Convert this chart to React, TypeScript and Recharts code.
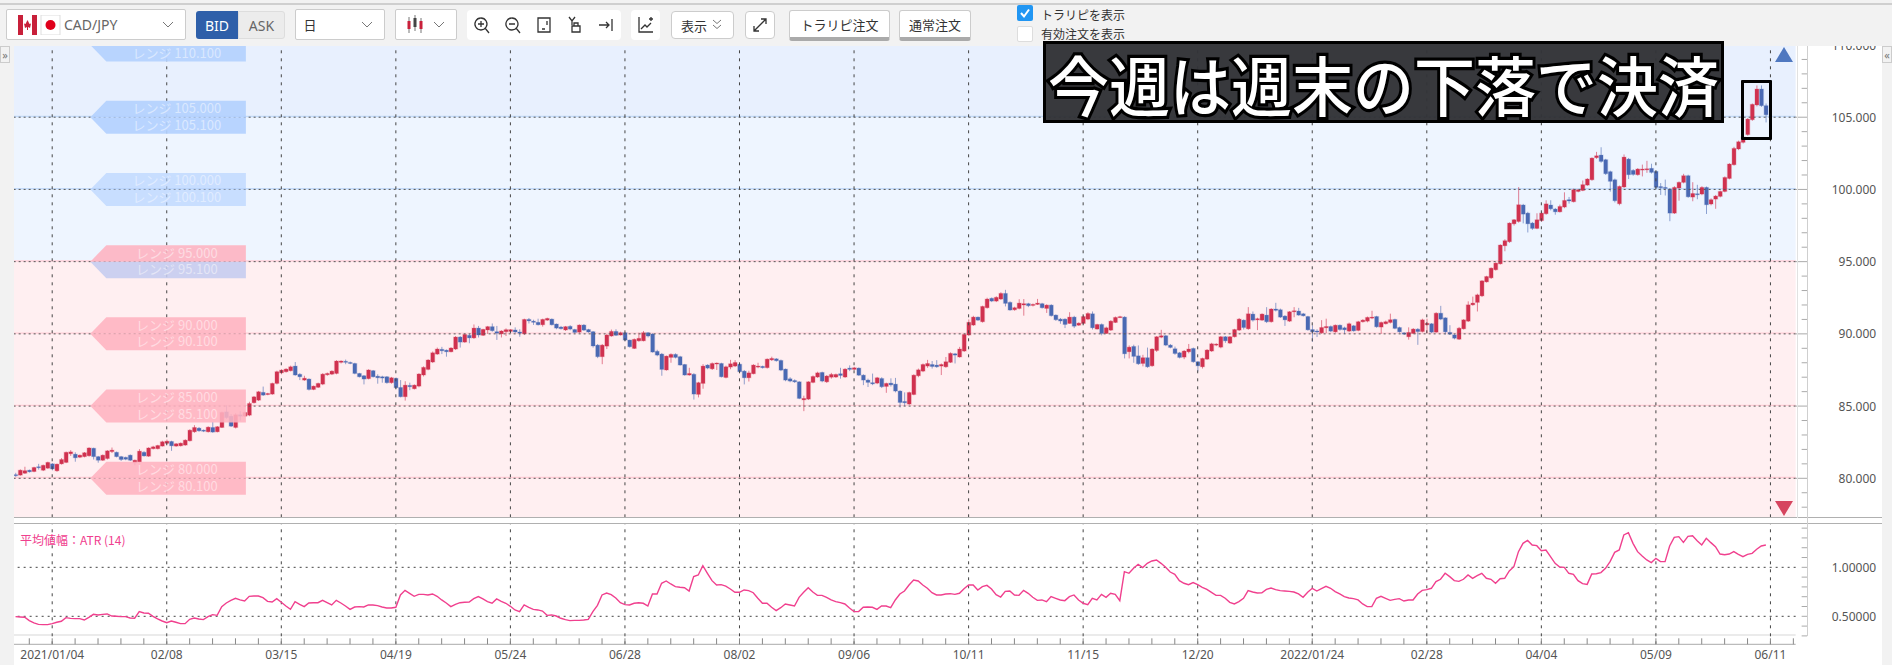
import React from "react";
import {
  ComposedChart,
  Bar,
  Line,
  XAxis,
  YAxis,
  ReferenceLine,
  ReferenceArea,
  ReferenceDot,
} from "recharts";

const FONT = '"Noto Sans", "Noto Sans CJK JP", sans-serif';
const JP_FONT = '"Noto Sans CJK JP", sans-serif';

// 日足 (25本ごと = 5週)
const opens = [
  80.25,80.22,80.35,80.56,80.47,80.8,80.56,80.7,81.0,80.52,81.0,81.1,81.7,81.67,81.46,81.5,81.56,82.08,81.5,81.25,81.37,81.85,81.8,81.5,81.45,
  81.6,81.07,81.13,81.8,81.53,82.05,82.05,82.23,82.42,82.55,82.23,82.25,82.3,82.6,83.22,83.47,83.33,83.22,83.52,83.22,83.52,84.6,84.3,83.52,84.4,
  84.3,84.37,85.23,85.41,85.95,85.8,85.83,86.57,87.3,87.38,87.45,87.77,87.2,86.8,86.87,86.15,86.3,86.52,87.17,87.21,87.26,88.03,88.1,88.02,87.95,
  87.26,87.1,86.9,87.45,87.07,87.03,87.03,86.62,86.92,86.29,85.65,86.43,86.2,86.38,87.15,87.54,88.05,88.6,88.93,88.87,88.76,88.95,89.78,89.43,89.9,
  89.72,90.4,89.9,90.27,90.5,90.15,90.0,90.15,90.17,90.27,90.13,90.0,91.0,90.88,90.8,90.63,90.95,91.02,90.68,90.47,90.27,90.52,90.3,90.12,90.61,
  90.3,90.15,89.22,88.42,89.15,89.85,90.17,89.92,90.08,89.57,88.99,89.52,89.52,90.08,89.99,88.79,88.6,87.5,88.37,88.58,88.42,87.88,87.15,87.2,85.81,
  86.57,87.84,87.58,87.95,87.95,86.98,87.7,87.77,87.9,87.42,86.96,87.24,87.7,87.75,87.66,88.2,88.27,88.16,87.56,86.89,86.77,86.68,85.43,85.48,86.64,
  87.01,87.33,86.68,87.0,87.01,87.24,87.01,87.63,87.54,87.63,87.14,86.8,86.62,86.59,86.91,86.36,86.59,86.52,86.04,85.32,85.14,85.8,87.1,87.42,87.77,
  87.88,87.84,87.77,87.72,88.03,88.62,88.4,88.81,89.92,90.61,91.16,90.84,91.81,92.46,92.27,92.41,92.8,92.18,91.67,91.76,92.0,92.09,91.97,92.04,92.09,
  91.76,91.99,91.3,91.02,91.02,90.72,91.16,90.6,90.72,91.02,91.39,90.33,90.65,90.03,90.26,90.79,91.14,91.16,88.76,89.13,88.48,87.95,88.35,87.79,88.85,
  89.77,89.87,89.22,88.97,88.69,88.39,88.76,88.99,88.07,87.72,88.25,88.81,89.22,89.08,89.8,89.36,89.8,90.26,90.95,90.35,91.37,90.97,90.95,91.3,90.84,
  91.72,91.67,91.23,90.88,91.53,91.58,91.39,91.2,90.3,90.2,90.07,90.42,90.51,90.14,90.6,90.42,90.19,90.56,90.24,90.84,90.88,91.12,91.2,90.47,90.7,
  90.79,91.0,90.44,90.07,89.8,90.03,90.32,90.16,90.63,90.7,90.12,91.43,91.11,90.1,89.93,89.63,90.35,90.88,92.01,92.18,92.63,93.6,93.88,94.44,94.85,
  96.1,96.38,97.62,97.78,98.92,98.36,97.67,97.3,97.84,98.32,98.92,98.64,98.45,98.78,99.29,99.15,99.86,99.93,100.3,100.67,102.2,102.38,102.06,101.23,100.67,
  99.01,100.17,102.1,101.32,101.02,101.34,101.36,101.46,101.25,100.2,100.14,100.02,98.36,100.1,100.49,100.95,99.47,99.7,99.68,100.14,98.99,99.33,99.52,99.86,100.76,
  101.71,102.8,103.26,103.8,104.83,105.85,106.95,105.8,
];

const closes = [
  80.2,80.56,80.53,80.45,80.75,80.75,80.9,81.1,80.65,80.98,81.3,81.8,81.83,81.42,81.6,81.77,82.1,81.5,81.25,81.6,81.9,81.95,81.5,81.3,81.32,
  81.25,81.25,81.88,81.55,82.1,82.18,82.27,82.53,82.57,82.25,82.39,82.43,82.64,83.33,83.52,83.29,83.3,83.54,83.2,83.57,84.56,84.2,83.61,84.4,84.3,
  84.56,85.18,85.64,85.99,85.76,85.87,86.57,87.38,87.49,87.56,87.72,87.15,87.03,86.93,86.15,86.38,86.57,87.21,87.26,87.42,88.12,88.12,88.05,87.98,87.26,
  87.03,86.87,87.5,87.03,86.96,86.94,86.62,86.96,86.27,85.65,86.45,86.34,86.45,87.22,87.68,88.19,88.69,88.95,88.83,88.76,89.02,89.78,89.43,89.96,89.72,
  90.4,89.92,90.31,90.5,90.22,90.05,90.2,90.29,90.29,90.13,90.05,91.0,90.9,90.8,90.63,91.0,91.07,90.63,90.4,90.36,90.5,90.33,90.1,90.61,90.26,
  90.13,89.16,88.42,89.22,89.92,90.17,89.9,90.08,89.57,89.11,89.62,89.69,90.08,89.85,88.74,88.53,87.54,88.46,88.58,88.37,87.84,87.15,87.26,85.83,86.62,
  87.77,87.63,87.95,87.98,87.03,87.72,87.93,88.02,87.38,86.96,87.3,87.84,87.77,87.66,88.25,88.3,88.14,87.49,86.8,86.73,86.68,85.53,85.53,86.68,87.05,
  87.3,86.73,87.08,87.19,87.19,87.12,87.56,87.54,87.65,87.14,86.8,86.64,86.54,86.96,86.34,86.57,86.47,86.04,85.25,85.23,85.94,87.14,87.51,87.88,87.95,
  87.74,87.72,87.88,88.07,88.65,88.53,88.95,89.96,90.8,91.16,90.95,91.9,92.41,92.27,92.53,92.8,92.11,91.65,91.81,92.13,92.09,91.95,92.04,92.13,91.81,
  91.99,91.26,90.98,90.89,90.65,91.16,90.53,90.74,91.2,91.41,90.42,90.65,90.03,90.42,90.88,91.14,91.19,88.62,89.08,88.44,87.93,88.35,87.72,88.95,89.8,
  89.87,89.22,89.06,88.64,88.37,88.81,88.95,88.07,87.79,88.3,88.88,89.31,89.29,89.8,89.52,89.8,90.3,91.02,90.44,91.39,90.95,91.05,91.37,90.84,91.72,
  91.63,91.16,90.97,91.53,91.6,91.3,91.25,90.28,90.14,90.14,90.44,90.51,90.19,90.6,90.3,90.28,90.7,90.21,90.84,90.95,91.14,91.16,90.49,90.79,90.84,
  90.98,90.38,90.14,89.98,90.1,90.33,90.16,90.97,90.73,90.12,91.43,91.02,90.14,89.98,89.7,90.39,90.97,92.01,92.13,92.7,93.67,93.97,94.55,94.9,96.15,
  96.45,97.67,97.9,98.94,98.29,97.62,97.3,97.9,98.36,99.0,98.66,98.45,98.82,99.24,99.2,99.98,99.98,100.33,100.72,102.17,102.33,101.94,101.09,100.56,99.22,
  100.21,102.24,101.02,101.04,101.41,101.41,101.43,101.18,100.14,100.12,100.07,98.36,100.14,100.49,100.95,99.49,99.72,99.66,100.14,98.94,99.29,99.54,99.86,100.83,101.76,
  102.84,103.3,103.63,104.87,105.89,106.95,105.8,105.17,
];

const highs = [
  80.38,80.62,80.8,80.6,80.8,81.0,80.95,81.15,81.05,81.02,81.4,81.85,81.95,81.8,81.65,81.82,82.15,82.12,81.55,81.65,81.95,82.13,81.85,81.55,81.5,
  81.65,81.3,82.02,81.88,82.15,82.25,82.32,82.6,82.68,82.6,82.44,82.48,82.7,83.4,83.68,83.55,83.38,83.6,83.9,83.62,84.62,85.05,84.45,84.5,84.65,
  84.62,85.3,85.7,86.05,86.35,85.92,86.62,87.45,87.55,87.62,87.8,88.05,87.28,87.1,86.92,86.42,86.62,87.28,87.32,87.48,88.18,88.17,88.22,88.08,88.0,
  87.3,87.15,87.55,87.5,87.2,87.1,87.08,87.02,86.98,86.8,86.72,86.62,86.5,87.28,87.75,88.25,88.78,89.05,89.1,88.92,89.08,89.85,89.85,90.02,90.0,
  90.65,90.55,90.35,90.55,90.72,90.55,90.25,90.38,90.34,90.45,90.32,91.05,91.1,90.98,91.05,91.05,91.12,91.07,90.72,90.55,90.55,90.6,90.35,90.66,90.68,
  90.35,90.2,89.3,89.3,90.0,90.3,90.32,90.15,90.12,89.6,89.68,90.08,90.2,90.12,90.05,88.9,88.68,88.5,88.65,88.65,88.48,87.92,87.65,87.28,86.68,
  87.9,87.9,88.02,88.02,88.0,87.8,88.2,88.18,87.96,87.5,87.45,87.9,88.0,87.8,88.3,88.42,88.32,88.22,87.6,87.0,86.85,86.72,85.72,86.72,87.12,
  87.38,87.38,87.15,87.3,87.25,87.65,87.62,87.82,87.72,87.68,87.2,86.9,87.25,87.02,87.0,86.62,86.92,86.95,86.1,85.95,86.0,87.2,87.6,87.95,88.2,
  88.12,88.18,87.95,88.4,88.72,88.68,89.1,90.02,91.0,91.25,91.2,91.95,92.5,92.52,92.6,92.88,93.05,92.25,91.88,92.4,92.41,92.15,92.1,92.42,92.15,
  92.05,92.05,91.35,91.1,91.08,91.5,91.25,90.8,91.28,91.5,91.55,90.7,90.72,90.5,90.95,91.2,91.25,91.22,89.2,89.25,89.2,88.55,89.05,89.0,89.85,
  90.28,89.92,89.3,89.12,88.75,88.88,89.3,89.05,88.12,88.35,88.95,89.38,89.35,89.85,89.85,89.85,90.35,91.1,91.0,91.85,91.55,91.12,91.42,91.85,91.78,
  92.15,91.75,91.3,91.58,91.85,91.8,91.45,91.25,90.6,90.32,90.95,91.05,90.58,90.65,90.65,90.5,90.78,90.62,90.9,91.02,91.2,91.6,91.25,90.85,90.92,
  91.4,91.05,90.5,90.12,90.45,90.4,90.4,91.05,91.05,90.75,91.5,91.94,91.15,90.6,89.98,90.48,91.02,92.25,92.58,92.78,93.72,94.02,94.6,94.95,96.2,
  96.55,97.72,97.95,100.16,99.0,98.45,97.75,98.35,98.45,99.25,99.25,98.72,98.95,99.8,99.48,100.05,100.02,100.62,100.78,102.22,102.6,102.92,102.12,101.3,100.75,
  100.27,102.42,102.18,101.4,101.48,101.72,101.98,101.78,101.3,100.44,100.68,100.1,100.22,100.55,101.08,101.02,100.5,100.32,100.22,100.2,99.38,99.62,99.92,100.9,101.82,
  102.95,103.38,103.72,104.95,105.95,107.2,107.2,105.95,
];

const lows = [
  80.1,80.18,80.3,80.4,80.42,80.6,80.5,80.65,80.55,80.45,80.95,81.05,81.55,81.15,81.4,81.45,81.5,81.3,81.08,81.2,81.3,81.75,81.45,81.2,81.25,
  81.2,80.9,81.1,81.5,81.48,82.0,82.0,82.2,82.35,81.9,82.18,82.2,82.25,82.55,83.15,83.22,83.2,83.17,83.15,83.18,83.48,84.12,83.55,83.45,84.0,
  84.25,84.3,85.18,85.35,85.7,85.75,85.78,86.5,87.2,87.32,87.4,87.1,86.8,86.75,86.08,86.1,86.25,86.45,87.1,87.15,87.2,87.95,87.9,87.9,87.2,
  86.98,86.5,86.85,86.98,86.55,86.62,86.55,86.55,86.2,85.6,85.38,86.1,86.15,86.3,87.05,87.48,87.98,88.55,88.6,88.42,88.72,88.88,89.05,89.38,89.35,
  89.65,89.75,89.85,90.0,90.15,89.58,89.75,89.85,90.1,90.05,89.8,89.92,90.72,90.62,90.58,90.5,90.9,90.58,90.32,90.3,90.2,90.25,90.05,90.05,90.2,
  90.08,89.05,88.32,87.9,88.95,89.8,89.85,89.88,89.5,89.05,88.95,89.45,89.48,89.75,88.7,88.45,87.1,87.45,88.0,88.3,87.8,87.1,87.1,85.45,85.6,
  86.2,87.55,87.5,87.5,86.98,86.92,87.55,87.7,87.32,86.5,86.7,87.2,87.62,87.6,87.6,88.12,88.08,87.42,86.72,86.65,86.6,85.48,84.65,85.42,86.58,
  86.95,86.65,86.6,86.9,86.95,86.9,86.95,87.42,87.48,87.08,86.45,86.32,86.45,86.52,86.25,85.92,86.35,85.95,84.9,85.0,85.08,85.75,87.0,87.35,87.65,
  87.6,87.65,87.15,87.65,87.98,87.95,88.35,88.75,89.85,90.55,90.9,90.78,91.75,92.2,92.2,92.35,91.9,91.6,91.6,91.7,91.26,91.85,91.9,92.0,91.75,
  91.45,91.2,90.9,90.7,90.4,90.7,90.4,90.55,90.65,90.95,90.3,90.3,89.9,90.0,90.2,90.75,91.1,88.3,88.3,88.0,87.85,87.75,87.65,87.72,88.75,
  89.7,89.15,89.0,88.55,88.3,88.25,88.65,88.0,87.4,87.6,88.2,88.75,89.15,89.0,89.38,89.3,89.75,90.2,90.3,90.28,90.85,90.26,90.9,90.75,90.78,
  91.55,91.1,90.55,90.82,91.15,91.25,91.2,90.22,89.45,89.78,90.0,90.05,90.12,90.08,90.22,90.0,90.12,90.15,90.18,90.78,90.8,91.02,90.42,90.0,90.65,
  90.72,90.32,90.08,89.92,89.6,89.98,89.24,90.1,90.05,90.05,90.08,90.95,89.95,89.92,89.62,89.58,90.3,90.82,91.95,91.55,92.55,93.55,93.8,94.38,94.8,
  95.72,96.3,97.5,97.7,97.65,97.02,97.2,97.25,97.75,98.25,98.55,98.25,98.4,98.7,99.02,99.1,99.8,99.88,100.25,100.6,102.12,101.85,101.0,99.85,99.1,
  98.9,100.1,100.72,100.95,100.95,100.9,101.15,101.1,100.08,99.62,99.58,97.8,98.3,99.22,100.42,99.42,99.18,99.32,99.6,98.3,98.9,98.66,99.45,99.8,100.7,
  101.65,102.72,103.18,103.72,104.75,105.75,105.72,104.64,
];

// 平均値幅 ATR(14)
const atrValues = [
  .497,.493,.49,.456,.432,.418,.415,.415,.425,.439,.449,.486,.479,.476,.476,.462,.49,.52,.514,.52,.524,.503,.5,.497,.497,
  .483,.48,.548,.534,.531,.5,.473,.452,.435,.452,.439,.425,.425,.469,.483,.473,.466,.497,.517,.51,.599,.636,.663,.684,.667,
  .656,.704,.707,.707,.69,.653,.646,.68,.643,.605,.571,.65,.622,.599,.636,.639,.639,.663,.639,.616,.663,.636,.605,.571,.595,
  .599,.595,.616,.616,.609,.595,.585,.585,.592,.718,.765,.735,.704,.724,.724,.718,.728,.704,.667,.636,.599,.622,.639,.643,.646,
  .68,.701,.677,.65,.633,.677,.653,.633,.602,.565,.548,.616,.592,.571,.565,.554,.51,.514,.503,.48,.466,.456,.459,.459,.462,
  .469,.548,.612,.718,.738,.721,.687,.639,.619,.616,.633,.639,.633,.605,.728,.728,.837,.861,.83,.803,.796,.792,.758,.905,.922,
  1.017,.939,.864,.82,.823,.809,.779,.745,.745,.769,.762,.741,.684,.633,.633,.592,.558,.588,.626,.616,.605,.694,.745,.792,.748,
  .714,.714,.694,.667,.65,.639,.626,.585,.548,.548,.592,.595,.592,.571,.605,.605,.588,.667,.728,.758,.82,.871,.861,.82,.786,
  .741,.718,.718,.728,.731,.724,.735,.782,.82,.82,.769,.803,.816,.779,.721,.697,.755,.758,.718,.714,.765,.735,.694,.663,.667,
  .65,.701,.684,.667,.66,.701,.718,.667,.633,.619,.684,.667,.724,.694,.735,.724,.66,.956,.939,.99,1.031,.997,1.041,1.065,1.075,
  1.041,1.0,.952,.929,.864,.837,.823,.844,.823,.796,.775,.745,.714,.714,.684,.643,.626,.65,.684,.762,.748,.738,.741,.775,.789,
  .772,.762,.758,.755,.748,.728,.694,.745,.786,.758,.782,.806,.786,.752,.728,.701,.687,.68,.667,.626,.599,.599,.684,.704,.684,
  .663,.673,.68,.656,.667,.667,.728,.765,.772,.786,.854,.878,.939,.905,.864,.857,.878,.922,.888,.915,.939,.888,.878,.837,.884,
  .888,.963,1.007,1.16,1.245,1.275,1.228,1.221,1.17,1.177,1.109,1.041,1.003,1.0,.939,.929,.864,.833,.826,.932,.935,.946,.99,1.058,1.153,
  1.177,1.33,1.354,1.245,1.16,1.116,1.075,1.048,1.092,1.058,1.058,1.218,1.306,1.313,1.255,1.316,1.323,1.272,1.228,1.296,1.252,1.211,1.136,1.129,1.136,
  1.16,1.133,1.109,1.133,1.143,1.184,1.218,1.228,
];

const dateLabels = [
  "2021/01/04", "02/08", "03/15", "04/19", "05/24", "06/28", "08/02", "09/06", "10/11",
  "11/15", "12/20", "2022/01/24", "02/28", "04/04", "05/09", "06/11",
];
const priceLevels = [80, 85, 90, 95, 100, 105, 110];
const priceTicks = [78,79,80,81,82,83,84,85,86,87,88,89,90,91,92,93,94,95,96,97,98,99,100,101,102,103,104,105,106,107,108,109,110];
const atrTicks = [0.3, 0.4, 0.5, 0.6, 0.7, 0.8, 0.9, 1.0, 1.1, 1.2, 1.3, 1.4];

const SLOTS = 389;
const rows = Array.from({ length: SLOTS }, (_, i) => ({
  idx: i,
  open: opens[i],
  close: closes[i],
  high: highs[i],
  low: lows[i],
  range: highs[i] === undefined ? null : [lows[i], highs[i]],
  atr: atrValues[i] === undefined ? null : atrValues[i],
}));
const majorIdx = dateLabels.map((_, i) => 8 + i * 25);
const weekIdx = rows.map((r) => r.idx).filter((i) => i % 5 === 3);

const UP = "#d0314f";
const DOWN = "#4a69b3";

function Candle(props: any) {
  const { x, y, width, height, payload } = props;
  if (payload.open === undefined) return null;
  const top = Math.min(y, y + height);
  const scale = Math.abs(height) / (payload.high - payload.low);
  const cx = x + width / 2;
  const up = payload.close >= payload.open;
  const color = up ? UP : DOWN;
  const bodyTop = top + (payload.high - Math.max(payload.open, payload.close)) * scale;
  const bodyH = Math.max(Math.abs(payload.close - payload.open) * scale, 1);
  return (
    <g>
      <line x1={cx} x2={cx} y1={top} y2={top + Math.abs(height)} stroke={color} strokeOpacity={0.6} strokeWidth={1} />
      <rect x={cx - 2.6} y={bodyTop - 0.5} width={5.2} height={bodyH + 1} fill={color} fillOpacity={0.22} />
      <rect x={cx - 1.9} y={bodyTop} width={3.8} height={bodyH} fill={color} />
    </g>
  );
}

function RangeTag({ cx, cy, level }: any) {
  const left = cx + 1.5;
  const shoulder = cx + 17.5;
  const right = cx + 157;
  const upper = level <= 95 ? "#ffb3c1" : "#b4d2ff";
  const lowerFill = level === 95 ? "#c5ccf0" : level < 95 ? "#ffb3c1" : "#b4d2ff";
  const opacity = level === 100 ? 0.65 : level > 100 ? 0.92 : 0.88;
  const text = { fill: "#fff", fillOpacity: 0.5, fontSize: 13, fontFamily: JP_FONT, textAnchor: "middle" as const };
  return (
    <g opacity={opacity}>
      <polygon points={`${left},${cy} ${shoulder},${cy - 16.5} ${right},${cy - 16.5} ${right},${cy}`} fill={upper} />
      <polygon points={`${left},${cy} ${shoulder},${cy + 16.5} ${right},${cy + 16.5} ${right},${cy}`} fill={lowerFill} />
      {level < 110 && <text x={cx + 88} y={cy - 4} {...text}>{`レンジ ${level.toFixed(3)}`}</text>}
      <text x={cx + 88} y={cy + 12.5} {...text}>{`レンジ ${(level + 0.1).toFixed(3)}`}</text>
    </g>
  );
}

function PriceTick({ x, y, payload }: any) {
  const major = payload.value % 5 === 0;
  return (
    <g>
      <line x1={major ? x : x + 6} x2={x + 11.5} y1={y} y2={y} stroke="#aaa" />
      {major && (
        <text x={x + 80.5} y={y + 4.5} textAnchor="end" fontSize={12} fontFamily={FONT} fill="#555">
          {payload.value.toFixed(3)}
        </text>
      )}
    </g>
  );
}

function AtrTick({ x, y, payload }: any) {
  const major = payload.value === 1 || payload.value === 0.5;
  return (
    <g>
      <line x1={x + 6} x2={x + 11.5} y1={y} y2={y} stroke="#aaa" />
      {major && (
        <text x={x + 80.5} y={y + 4.5} textAnchor="end" fontSize={12} fontFamily={FONT} fill="#555">
          {payload.value.toFixed(5)}
        </text>
      )}
    </g>
  );
}

function DateTick({ x, y, payload }: any) {
  const k = majorIdx.indexOf(payload.value);
  return (
    <g>
      <line x1={x} x2={x} y1={y - 6} y2={y} stroke="#888" />
      {k >= 0 && (
        <text x={x} y={y + 15} textAnchor="middle" fontSize={12} fontFamily={FONT} fill="#555">
          {dateLabels[k]}
        </text>
      )}
    </g>
  );
}

function PriceChart() {
  return (
    <ComposedChart
      width={1892}
      height={530}
      data={rows}
      margin={{ top: 45, right: 0, bottom: 12.7, left: 13.25 }}
      barCategoryGap={0}
    >
      <XAxis dataKey="idx" type="category" scale="band" hide />
      <YAxis
        orientation="right"
        width={96.35}
        type="number"
        domain={[77.3, 110]}
        ticks={priceTicks}
        interval={0}
        axisLine={false}
        tickLine={false}
        tickSize={0}
        tickMargin={0}
        tick={<PriceTick />}
      />
      <ReferenceArea y1={105} y2={110} fill="#e8f0fe" fillOpacity={1} stroke="none" />
      <ReferenceArea y1={95} y2={105} fill="#eef5ff" fillOpacity={1} stroke="none" />
      <ReferenceArea y1={77.3} y2={95} fill="#ffeff1" fillOpacity={1} stroke="none" />
      {priceLevels.slice(0, 6).map((lv) => (
        <ReferenceArea
          key={lv}
          y1={lv}
          y2={lv + 0.1}
          fill={lv > 95 ? "#c3daf8" : "#ffcdd6"}
          fillOpacity={1}
          stroke="none"
        />
      ))}
      {majorIdx.map((i) => (
        <ReferenceLine key={i} x={i} stroke="#444" strokeDasharray="3 5" />
      ))}
      {priceLevels.slice(0, 6).map((lv) => (
        <ReferenceLine key={lv} y={lv} stroke="#555" strokeDasharray="2 3" />
      ))}
      <Bar dataKey="range" shape={<Candle />} isAnimationActive={false} />
      {priceLevels.map((lv) => (
        <ReferenceDot
          key={lv}
          x={16}
          y={lv}
          r={1}
          ifOverflow="visible"
          shape={(p: any) => <RangeTag cx={p.cx} cy={p.cy} level={lv} />}
        />
      ))}
    </ComposedChart>
  );
}

function AtrChart() {
  return (
    <ComposedChart
      width={1892}
      height={148}
      data={rows}
      margin={{ top: 6.3, right: 0, bottom: 0, left: 13.25 }}
    >
      <XAxis
        dataKey="idx"
        type="category"
        scale="band"
        ticks={weekIdx}
        interval={0}
        height={20.7}
        axisLine={{ stroke: "#aaa" }}
        tickLine={false}
        tickSize={0}
        tickMargin={0}
        tick={<DateTick />}
      />
      <YAxis
        orientation="right"
        width={96.35}
        type="number"
        domain={[0.2143, 1.4494]}
        ticks={atrTicks}
        interval={0}
        axisLine={false}
        tickLine={false}
        tickSize={0}
        tickMargin={0}
        tick={<AtrTick />}
      />
      <ReferenceLine y={0.31} stroke="#e4e4e4" strokeWidth={1.5} />
      {majorIdx.map((i) => (
        <ReferenceLine key={i} x={i} stroke="#444" strokeDasharray="3 5" />
      ))}
      <ReferenceLine y={1} stroke="#444" strokeDasharray="2 4" />
      <ReferenceLine y={0.5} stroke="#444" strokeDasharray="2 4" />
      <Line
        dataKey="atr"
        type="linear"
        stroke="#f0408e"
        strokeWidth={1.4}
        dot={false}
        connectNulls={false}
        isAnimationActive={false}
      />
    </ComposedChart>
  );
}

function Abs({ x, y, w, h, style, children }: any) {
  return (
    <div style={{ position: "absolute", left: x, top: y, width: w, height: h, boxSizing: "border-box", ...style }}>
      {children}
    </div>
  );
}

const field = { background: "#fff", border: "1px solid #ccc", borderRadius: 2 };
const center = { display: "flex", alignItems: "center", justifyContent: "center" };

function Chevron({ x, y }: any) {
  return (
    <svg style={{ position: "absolute", left: x, top: y }} width={12} height={8}>
      <path d="M1 1 L6 6 L11 1" fill="none" stroke="#777" />
    </svg>
  );
}

function IconSvg({ x, d }: any) {
  return (
    <svg style={{ position: "absolute", left: x - 9, top: 16 }} width={18} height={18} viewBox="0 0 18 18">
      <path d={d} fill="none" stroke="#333" strokeWidth={1.3} />
    </svg>
  );
}

function Toolbar() {
  const label = { fontFamily: JP_FONT, fontSize: 13, color: "#333" };
  return (
    <Abs x={0} y={0} w={1892} h={46} style={{ background: "#f2f2f2" }}>
      <Abs x={0} y={3} w={1892} h={1.5} style={{ background: "#cfcfcf" }} />
      <Abs x={6} y={9} w={180} h={31} style={field} />
      <svg style={{ position: "absolute", left: 18, top: 15 }} width={44} height={20}>
        <rect x={0} y={0} width={19} height={20} fill="#fff" />
        <rect x={0} y={0} width={5} height={20} fill="#c8203a" />
        <rect x={14} y={0} width={5} height={20} fill="#c8203a" />
        <path d="M9.5 5 L11.5 9 L13 8.5 L12 13 L10 12 L10 15 L9 15 L9 12 L7 13 L6 8.5 L7.5 9 Z" fill="#c8203a" />
        <rect x={23} y={0} width={19} height={20} fill="#fff" stroke="#ddd" />
        <circle cx={32.5} cy={10} r={5} fill="#e0001b" />
      </svg>
      <Abs x={64} y={9} w={70} h={31} style={{ ...center, justifyContent: "flex-start", fontFamily: FONT, fontSize: 14, color: "#666" }}>
        CAD/JPY
      </Abs>
      <Chevron x={162} y={21} />
      <Abs x={196} y={11} w={42} h={28} style={{ ...center, background: "#2e5fa9", color: "#fff", fontFamily: FONT, fontSize: 14, borderRadius: "3px 0 0 3px" }}>
        BID
      </Abs>
      <Abs x={238} y={11} w={47} h={28} style={{ ...center, background: "#ececec", color: "#666", fontFamily: FONT, fontSize: 14, border: "1px solid #ddd", borderRadius: "0 3px 3px 0" }}>
        ASK
      </Abs>
      <Abs x={295} y={9} w={90} h={31} style={field} />
      <Abs x={298} y={9} w={24} h={31} style={{ ...center, ...label }}>日</Abs>
      <Chevron x={361} y={21} />
      <Abs x={395} y={9} w={62} h={31} style={field} />
      <svg style={{ position: "absolute", left: 406, top: 15 }} width={18} height={20}>
        <path d="M3 2 V18 M9 0 V16 M15 3 V18" stroke="#777" />
        <rect x={1.5} y={6} width={3} height={8} fill="#c8203a" />
        <rect x={7.5} y={3} width={3} height={9} fill="#444" />
        <rect x={13.5} y={6} width={3} height={8} fill="#c8203a" />
      </svg>
      <Chevron x={433} y={21} />
      <Abs x={467} y={10} w={154} h={30} style={{ background: "#fff", borderRadius: 4 }} />
      <IconSvg x={482} d="M8 2 A6 6 0 1 1 7.9 2 M8 5 V11 M5 8 H11 M12 12 L16 17" />
      <IconSvg x={513} d="M8 2 A6 6 0 1 1 7.9 2 M5 8 H11 M12 12 L16 17" />
      <IconSvg x={544} d="M3 2 H15 V16 H3 Z M7 13 H10 M12 5 V9" />
      <IconSvg x={575} d="M3 1 L6 5 L9 1 M6 5 V9 M6 10 H14 V16 H6 Z M8 10 V7 H12 V10" />
      <IconSvg x={606} d="M2 9 H12 M9 6 L12 9 L9 12 M15 3 V15" />
      <Abs x={631} y={10} w={29} h={30} style={{ background: "#fff", borderRadius: 4 }} />
      <IconSvg x={645} d="M3 1 V16 H17 M5 13 L9 9 L11 11 L15 7 M13 3 H17 M15 1 V5" />
      <Abs x={671} y={11} w={63} h={28} style={{ ...field, ...center, ...label, borderRadius: 4, justifyContent: "flex-start", paddingLeft: 9 }}>表示</Abs>
      <svg style={{ position: "absolute", left: 712, top: 19 }} width={10} height={11}>
        <path d="M1 1 L5 4.5 L9 1 M1 6 L5 9.5 L9 6" fill="none" stroke="#777" />
      </svg>
      <Abs x={745} y={11} w={30} h={28} style={{ ...field, borderRadius: 4 }} />
      <IconSvg x={760} d="M3 15 L15 3 M10 3 H15 V8 M3 10 V15 H8" />
      <Abs x={789} y={10} w={101} h={31} style={{ ...field, ...center, ...label, borderRadius: 3, borderBottom: "4px solid #aaa" }}>トラリピ注文</Abs>
      <Abs x={899} y={10} w={72} h={31} style={{ ...field, ...center, ...label, borderRadius: 3, borderBottom: "4px solid #aaa" }}>通常注文</Abs>
      <Abs x={1017} y={5} w={16} h={16} style={{ background: "#2196f3", borderRadius: 2 }}>
        <svg width={16} height={16} style={{ display: "block" }}>
          <path d="M4 8 L7 11.5 L12 4.5" fill="none" stroke="#fff" strokeWidth={2} />
        </svg>
      </Abs>
      <Abs x={1041} y={6} w={110} h={16} style={{ ...center, ...label, justifyContent: "flex-start", fontSize: 12 }}>トラリピを表示</Abs>
      <Abs x={1017} y={26} w={16} h={16} style={{ background: "#fff", border: "1px solid #ddd", borderRadius: 2 }} />
      <Abs x={1041} y={26} w={110} h={15} style={{ ...center, ...label, justifyContent: "flex-start", fontSize: 12, lineHeight: "15px" }}>有効注文を表示</Abs>
    </Abs>
  );
}

export default function App() {
  return (
    <div style={{ position: "absolute", left: 0, top: 0, width: 1892, height: 665, background: "#fff", overflow: "hidden" }}>
      <Abs x={0} y={517} w={1892} h={148}>
        <AtrChart />
      </Abs>
      <Abs x={0} y={0} w={1892} h={530}>
        <PriceChart />
      </Abs>
      <Abs x={0} y={0} w={14} h={665} style={{ background: "#f2f2f2" }} />
      <Abs x={1882} y={0} w={10} h={665} style={{ background: "#f2f2f2" }} />
      <Abs x={14} y={517} w={1868} h={1} style={{ background: "#b0b0b0" }} />
      <Abs x={14} y={523} w={1868} h={1} style={{ background: "#b0b0b0" }} />
      <Abs x={1797} y={46} w={1} h={472} style={{ background: "#e2e2e2" }} />
      <Abs x={1807} y={46} w={1} h={590} style={{ background: "#cfcfcf" }} />
      <Toolbar />
      <Abs x={0} y={46} w={10} h={17} style={{ ...center, background: "#f2f2f2", border: "1px solid #ccc", fontFamily: FONT, fontSize: 11, color: "#777" }}>»</Abs>
      <Abs x={1882} y={46} w={10} h={17} style={{ ...center, background: "#f2f2f2", border: "1px solid #ccc", fontFamily: FONT, fontSize: 11, color: "#777" }}>«</Abs>
      <svg style={{ position: "absolute", left: 1775, top: 47 }} width={18} height={15}>
        <polygon points="9,0 18,15 0,15" fill="#4f78c0" />
      </svg>
      <svg style={{ position: "absolute", left: 1775, top: 501 }} width={18} height={15}>
        <polygon points="0,0 18,0 9,15" fill="#d6455f" />
      </svg>
      <Abs x={20} y={530} w={200} h={18} style={{ ...center, justifyContent: "flex-start", fontFamily: JP_FONT, fontSize: 12, color: "#f0408e" }}>
        平均値幅：ATR (14)
      </Abs>
      <Abs x={1740.5} y={80} w={31.5} h={59.5} style={{ border: "3px solid #000", borderRadius: 1 }} />
      <Abs
        x={1043}
        y={41}
        w={681}
        h={82}
        style={{
          ...center,
          background: "rgba(50,51,55,0.97)",
          border: "3px solid #000",
          color: "#fff",
          fontFamily: JP_FONT,
          fontSize: 61,
          fontWeight: 500,
          whiteSpace: "nowrap",
          WebkitTextStroke: "6px #000",
          paintOrder: "stroke fill",
        }}
      >
        <span style={{ display: "inline-block", transform: "scaleY(1.07)" }}>今週は週末の下落で決済</span>
      </Abs>
    </div>
  );
}
